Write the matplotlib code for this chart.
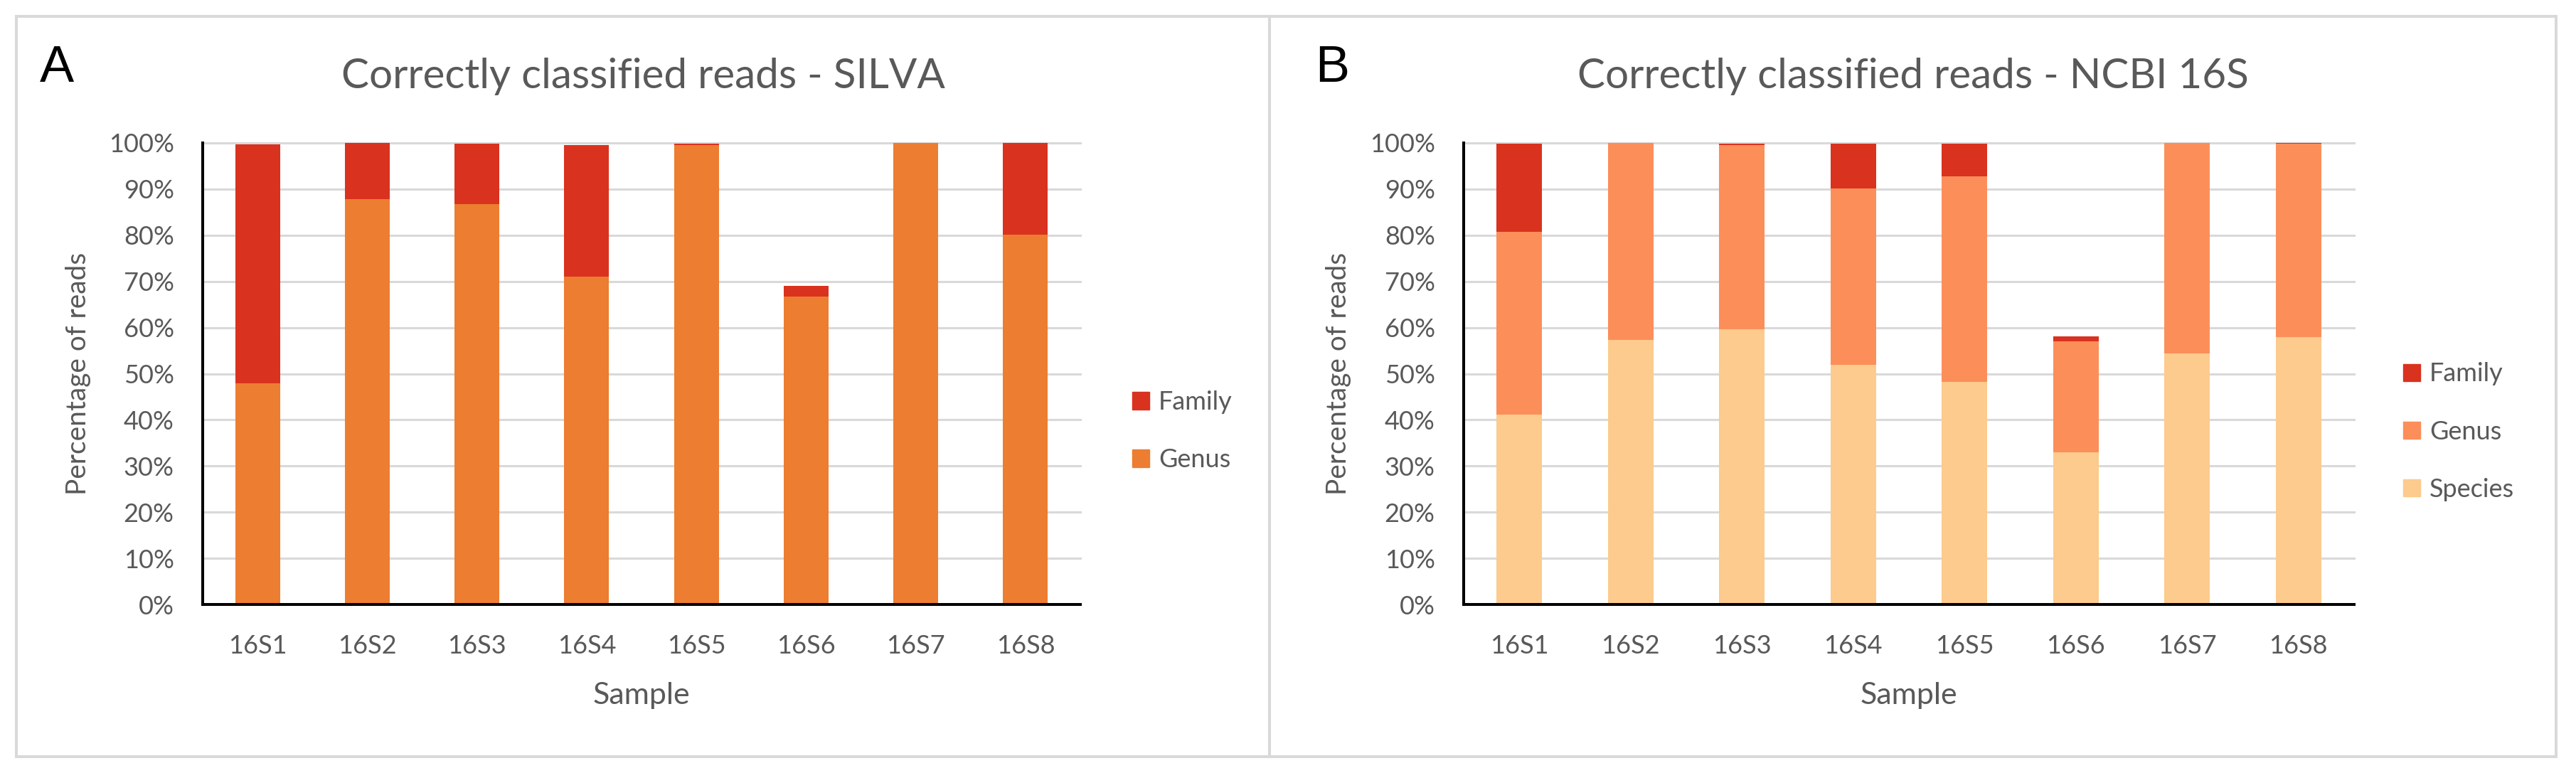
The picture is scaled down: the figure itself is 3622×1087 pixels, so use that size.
import matplotlib
matplotlib.use("Agg")
import matplotlib.pyplot as plt
from matplotlib.patches import Rectangle, Patch
from matplotlib.ticker import PercentFormatter

# --- data (fractions of reads) ---
samples = ["16S1", "16S2", "16S3", "16S4", "16S5", "16S6", "16S7", "16S8"]

silva_genus = [0.479, 0.879, 0.868, 0.710, 0.996, 0.667, 1.000, 0.802]
silva_family = [0.518, 0.121, 0.131, 0.286, 0.003, 0.023, 0.000, 0.198]

ncbi_species = [0.411, 0.573, 0.596, 0.519, 0.482, 0.330, 0.544, 0.580]
ncbi_genus = [0.396, 0.427, 0.399, 0.382, 0.446, 0.240, 0.456, 0.418]
ncbi_family = [0.191, 0.000, 0.004, 0.097, 0.070, 0.011, 0.000, 0.002]

RED = "#D9321F"
ORANGE_A = "#ED7D31"
ORANGE_B = "#FC8E5A"
SPECIES = "#FCCB8D"
GREY_TXT = "#595959"
GRID = "#D9D9D9"

W, H = 3623, 1087
FONT = "Lato"

fig = plt.figure(figsize=(W / 100, H / 100), dpi=100)


def px(x, y):
    return x / W, 1 - y / H


def setup_axes(left, right, top=201, bottom=850):
    ax = fig.add_axes([left / W, 1 - bottom / H, (right - left) / W, (bottom - top) / H])
    ax.set_xlim(-0.5, len(samples) - 0.5)
    ax.set_ylim(0, 1.0)
    ax.set_yticks([i / 10 for i in range(11)])
    ax.yaxis.set_major_formatter(PercentFormatter(1.0, decimals=0))
    ax.set_xticks(range(len(samples)))
    ax.set_xticklabels(samples)
    for s in ["top", "right"]:
        ax.spines[s].set_visible(False)
    for s in ["left", "bottom"]:
        ax.spines[s].set_color("black")
        ax.spines[s].set_linewidth(2.9)
        ax.spines[s].set_zorder(5)
    ax.yaxis.grid(True, color=GRID, linewidth=2.2, zorder=0)
    ax.set_axisbelow(True)
    ax.tick_params(axis="both", length=0, labelsize=26, labelcolor=GREY_TXT)
    ax.tick_params(axis="y", pad=29)
    ax.tick_params(axis="x", pad=30)
    for lab in ax.get_xticklabels() + ax.get_yticklabels():
        lab.set_fontfamily(FONT)
    for sp in ax.get_ygridlines():
        sp.set_clip_on(False)
    return ax


# panel borders
for x0, x1 in [(23, 1785), (1785, 3594)]:
    fig.patches.append(Rectangle(px(x0, 1064), (x1 - x0) / W, (1064 - 23) / H,
                                 transform=fig.transFigure, fill=False,
                                 edgecolor=GRID, linewidth=2.9))

# ---- panel A ----
axA = setup_axes(285, 1519)
x = range(len(samples))
bw = 0.41
axA.bar(x, silva_genus, bw, color=ORANGE_A, zorder=2, label="Genus")
axA.bar(x, silva_family, bw, bottom=silva_genus, color=RED, zorder=2, label="Family")

# ---- panel B ----
axB = setup_axes(2058, 3310)
axB.bar(x, ncbi_species, bw, color=SPECIES, zorder=2, label="Species")
gb = [a + b for a, b in zip(ncbi_species, ncbi_genus)]
axB.bar(x, ncbi_genus, bw, bottom=ncbi_species, color=ORANGE_B, zorder=2, label="Genus")
axB.bar(x, ncbi_family, bw, bottom=gb, color=RED, zorder=2, label="Family")

# titles, panel letters, axis titles
for cx, title in [(904, "Correctly classified reads - SILVA"), (2690, "Correctly classified reads - NCBI 16S")]:
    fig.text(*px(cx, 124), title, ha="center", va="baseline", fontsize=42,
             color=GREY_TXT, family=FONT)
fig.text(*px(56, 115), "A", ha="left", va="baseline", fontsize=52, color="black",
         family="Liberation Sans")
fig.text(*px(1849, 115), "B", ha="left", va="baseline", fontsize=52, color="black",
         family="Liberation Sans")

for cx in [110, 1882]:
    fig.text(*px(cx, 525), "Percentage of reads", rotation=90, ha="center", va="center",
             fontsize=28, color=GREY_TXT, family=FONT)
for cx in [902, 2684]:
    fig.text(*px(cx, 978), "Sample", ha="center", va="center", fontsize=31,
             color=GREY_TXT, family=FONT)

# legends
handlesA = [Patch(color=RED, label="Family"), Patch(color=ORANGE_A, label="Genus")]
handlesB = [Patch(color=RED, label="Family"), Patch(color=ORANGE_B, label="Genus"),
            Patch(color=SPECIES, label="Species")]
for handles, lx, ly in [(handlesA, 1592, 606), (handlesB, 3379, 607)]:
    leg = fig.legend(handles=handles, loc="center left", bbox_to_anchor=px(lx, ly),
                     bbox_transform=fig.transFigure, frameon=False, borderpad=0,
                     borderaxespad=0, handlelength=0.67, handleheight=0.67,
                     handletextpad=0.35, labelspacing=1.33,
                     prop={"family": FONT, "size": 26})
    for t in leg.get_texts():
        t.set_color(GREY_TXT)

fig.savefig("out.png", dpi=100)
